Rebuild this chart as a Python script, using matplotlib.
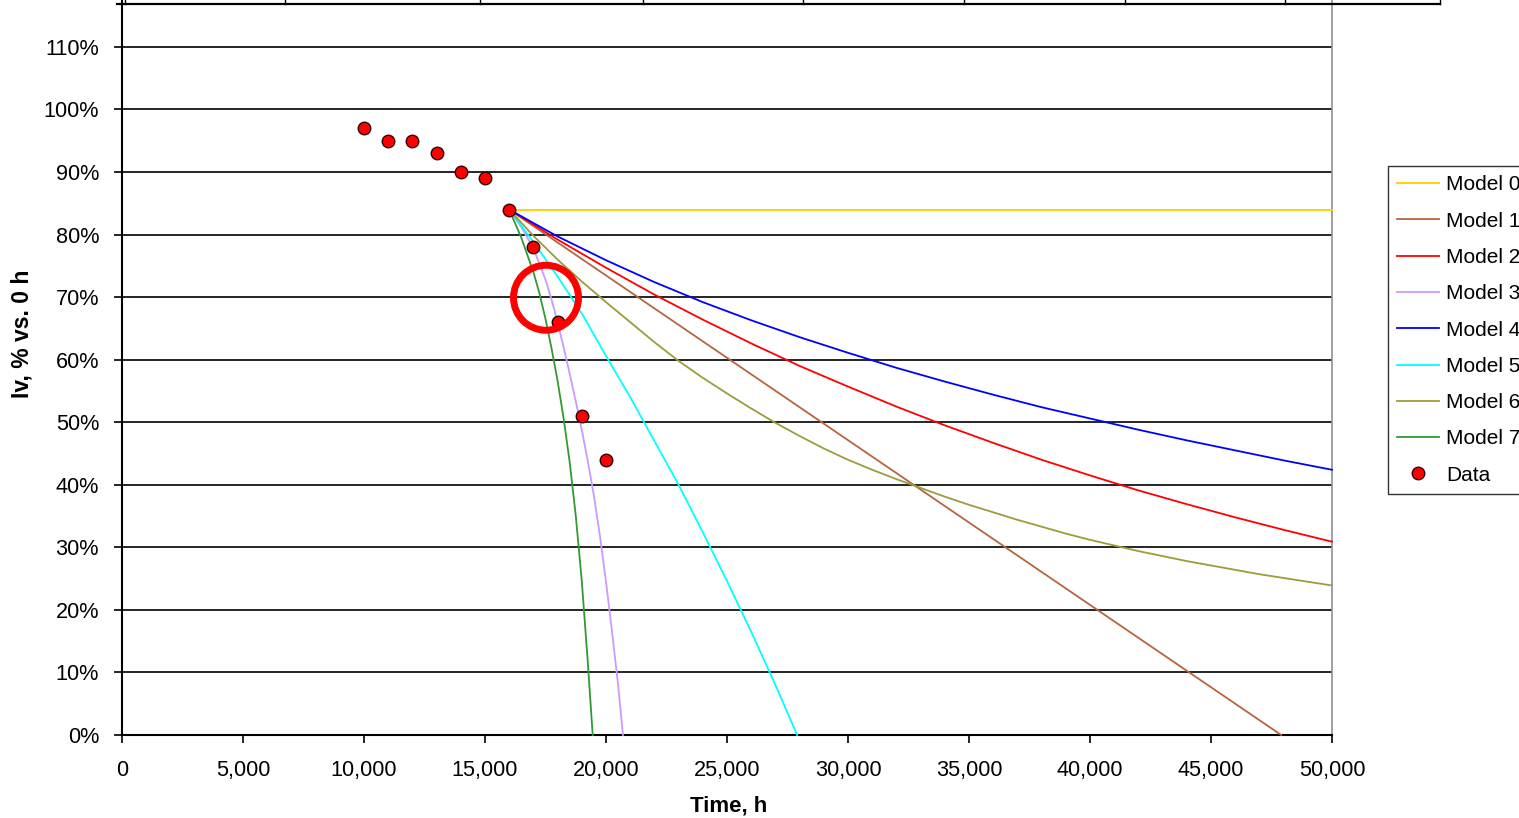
import matplotlib
matplotlib.use("Agg")
import matplotlib.pyplot as plt
from matplotlib.lines import Line2D
from matplotlib.patches import Ellipse
from matplotlib.ticker import FuncFormatter

plt.rcParams['font.family'] = ['Liberation Sans', 'DejaVu Sans']

# ---------------- data ----------------
data_t = [10000, 11000, 12000, 13000, 14000, 15000, 16000, 17000, 18000, 19000, 20000]
data_v = [97, 95, 95, 93, 90, 89, 84, 78, 66, 51, 44]

m0_t = [16000, 50000]
m0_v = [84, 84]

m1_t = [16000, 47900]
m1_v = [84, 0]

m2_t = [16000, 18000, 20000, 22000, 24000, 26000, 28000, 30000, 32000, 34000,
        36000, 38000, 40000, 42000, 44000, 46000, 48000, 50000]
m2_v = [84, 79.2, 74.7, 70.4, 66.4, 62.6, 59.0, 55.7, 52.5, 49.5,
        46.7, 44.0, 41.5, 39.1, 36.9, 34.8, 32.8, 30.9]

m3_t = [16000, 16500, 17000, 17500, 17750, 18000, 18250, 18500, 18750, 19000,
        19250, 19500, 19750, 20000, 20250, 20500, 20700]
m3_v = [84, 81.2, 77.8, 72.8, 69.6, 66.0, 62.0, 57.75, 53.35, 48.75,
        43.75, 38.25, 31.8, 24.5, 16.5, 8.0, 0]

m4_t = [16000, 18000, 20000, 22000, 24000, 26000, 28000, 30000, 32000, 34000,
        36000, 38000, 40000, 42000, 44000, 46000, 48000, 50000]
m4_v = [84, 79.7, 75.9, 72.4, 69.2, 66.3, 63.6, 61.1, 58.7, 56.5,
        54.4, 52.4, 50.6, 48.8, 47.1, 45.5, 43.9, 42.4]

m5_t = [16000, 17000, 18000, 19000, 20000, 21000, 22000, 23000, 24000, 25000,
        26000, 27000, 27900]
m5_v = [84, 78.8, 73.3, 67.4, 60.6, 54.0, 47.0, 40.0, 32.4, 24.6, 16.5, 8.0, 0]

m6_t = [16000, 17000, 18000, 19000, 20000, 21000, 22000, 23000, 24000, 25000,
        26000, 27000, 28000, 29000, 30000, 31000, 32000, 33000, 34000, 35000,
        36000, 37000, 38000, 39000, 40000, 41000, 42000, 43000, 44000, 45000,
        46000, 47000, 48000, 49000, 50000]
m6_v = [84, 79.8, 76.0, 72.5, 69.2, 66.0, 62.8, 59.8, 57.1, 54.6,
        52.2, 49.9, 47.8, 45.8, 44.0, 42.4, 40.9, 39.5, 38.1, 36.8,
        35.6, 34.4, 33.3, 32.2, 31.2, 30.3, 29.4, 28.6, 27.8, 27.1,
        26.4, 25.7, 25.1, 24.5, 23.9]

m7_t = [16000, 16500, 17000, 17250, 17500, 17750, 18000, 18250, 18500, 18750,
        19000, 19250, 19450]
m7_v = [84, 79.5, 74.0, 70.6, 66.5, 61.8, 56.6, 50.6, 43.6, 35.1,
        24.6, 11.5, 0]

model_names = ["Model 0", "Model 1", "Model 2", "Model 3", "Model 4",
               "Model 5", "Model 6", "Model 7"]
model_colors = ["#FFCC00", "#B5653F", "#FF0000", "#CC99FF", "#0000FF",
                "#00FFFF", "#9C9C3C", "#339933"]
models = [(m0_t, m0_v), (m1_t, m1_v), (m2_t, m2_v), (m3_t, m3_v),
          (m4_t, m4_v), (m5_t, m5_v), (m6_t, m6_v), (m7_t, m7_v)]

x_ticks = list(range(0, 50001, 5000))
y_ticks = list(range(0, 111, 10))

# annotation circle (highlight)
circle_center = (17520, 69.9)

# ---------------- figure ----------------
W, H = 1519, 818
fig = plt.figure(figsize=(W / 100, H / 100), dpi=100)
ax = fig.add_axes([122 / W, 83 / H, (1332 - 122) / W, (818 - 83) / H])

ax.set_xlim(0, 50000)
ax.set_ylim(0, 117.5)

for yv in y_ticks[1:]:
    ax.axhline(yv, color="black", lw=1.2, zorder=1)

handles = []
for (t, v), name, col in zip(models, model_names, model_colors):
    h, = ax.plot(t, v, color=col, lw=1.3, label=name, zorder=3, clip_on=False,
                 solid_joinstyle="round")
    handles.append(h)

hd, = ax.plot(data_t, data_v, linestyle="none", marker="o", markersize=9,
              markerfacecolor="#FF0000", markeredgecolor="#300000",
              markeredgewidth=1.0, label="Data", zorder=5)
handles.append(hd)

# highlight circle
px_per_x = (1332 - 122) / 50000.0
px_per_y = 735 / 117.5
r_px = 32.5
ax.add_patch(Ellipse(circle_center, width=2 * r_px / px_per_x, height=2 * r_px / px_per_y,
                     fill=False, edgecolor="#FF0000", lw=5.0, zorder=6))

ax.set_xticks(x_ticks)
ax.set_yticks(y_ticks)
ax.xaxis.set_major_formatter(FuncFormatter(lambda x, p: f"{int(x):,}"))
ax.yaxis.set_major_formatter(FuncFormatter(lambda y, p: f"{int(y)}%"))
ax.tick_params(axis="x", direction="out", length=6, width=1.2, pad=12,
               labelsize=15.6, colors="black")
ax.tick_params(axis="y", direction="out", length=6, width=1.2, pad=10.5,
               labelsize=15.6, colors="black")

ax.spines["top"].set_visible(False)
ax.spines["left"].set_color("black")
ax.spines["left"].set_linewidth(1.5)
ax.spines["bottom"].set_color("black")
ax.spines["bottom"].set_linewidth(1.5)
ax.spines["right"].set_color("#909090")
ax.spines["right"].set_linewidth(1.2)

fig.text(729 / W, 1 - 806 / H, "Time, h", ha="center", va="center",
         fontsize=16, fontweight="bold")
fig.text(22 / W, 1 - 334 / H, "Iv, % vs. 0 h", ha="center", va="center",
         rotation=90, fontsize=16.5, fontweight="bold")

leg = fig.legend(handles=handles, loc="upper left",
                 bbox_to_anchor=(1388 / W, 1 - 166 / H),
                 bbox_transform=fig.transFigure, borderaxespad=0,
                 fontsize=15, frameon=True, fancybox=False, shadow=False,
                 handlelength=2.0, handletextpad=0.35, labelspacing=0.83,
                 borderpad=0.45, numpoints=1)
leg.get_frame().set_edgecolor("black")
leg.get_frame().set_linewidth(1.0)

# top sheet border (cropped table row)
fig.add_artist(Line2D([117 / W, 1440 / W], [1 - 4 / H, 1 - 4 / H],
                      transform=fig.transFigure, color="black", lw=1.6))
for xp in [125, 285, 480, 643, 803, 964, 1125, 1285, 1440]:
    fig.add_artist(Line2D([xp / W, xp / W], [1 - 4 / H, 1.0],
                          transform=fig.transFigure, color="black", lw=1.0))

fig.savefig("out.png", dpi=100)
